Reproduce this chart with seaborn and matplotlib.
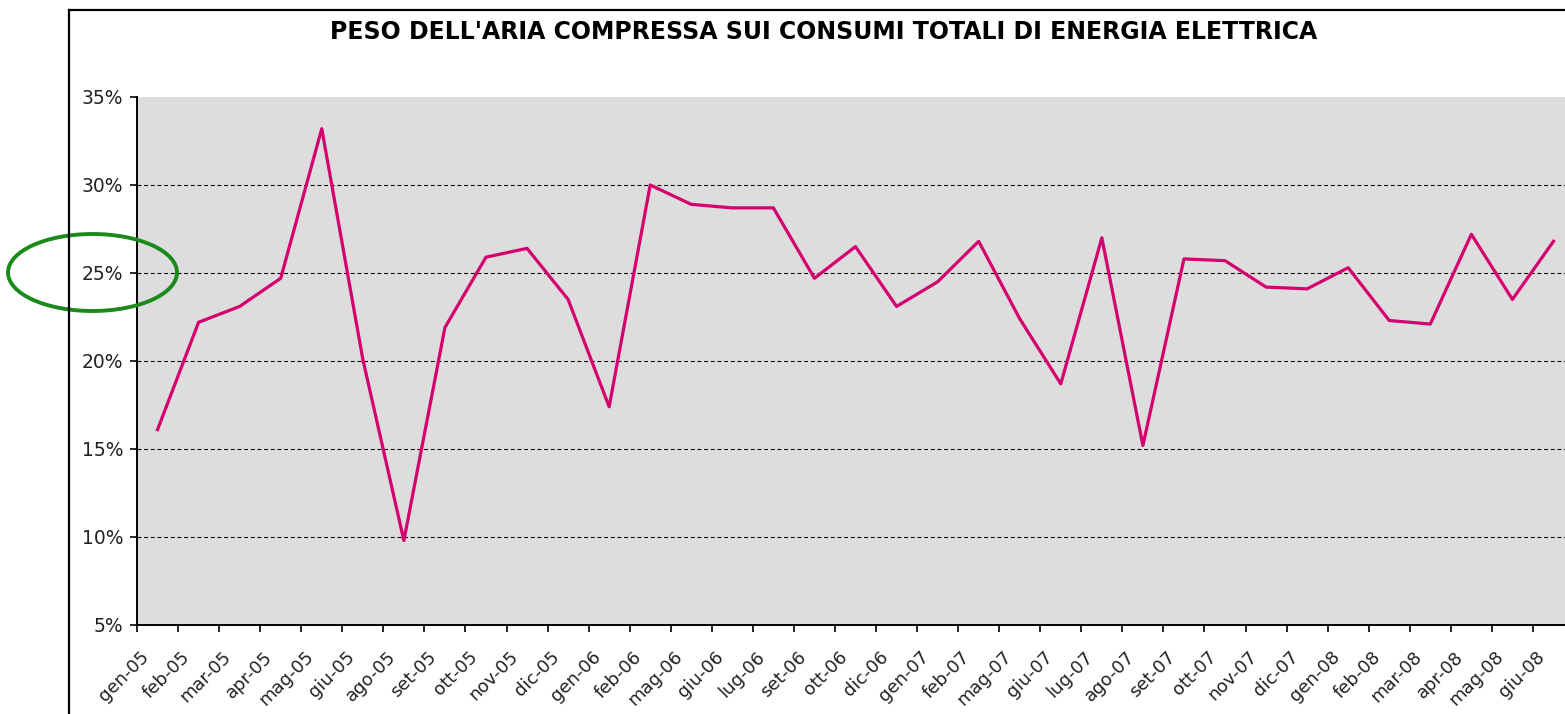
import numpy as np
import pandas as pd
import matplotlib
matplotlib.use("Agg")
import matplotlib.pyplot as plt
from matplotlib.patches import Ellipse
from matplotlib.lines import Line2D
from matplotlib.ticker import PercentFormatter, FixedLocator
import seaborn as sns

# ---- data ----
months = ["gen-05", "feb-05", "mar-05", "apr-05", "mag-05", "giu-05", "ago-05",
          "set-05", "ott-05", "nov-05", "dic-05", "gen-06", "feb-06", "mag-06",
          "giu-06", "lug-06", "set-06", "ott-06", "dic-06", "gen-07", "feb-07",
          "mag-07", "giu-07", "lug-07", "ago-07", "set-07", "ott-07", "nov-07",
          "dic-07", "gen-08", "feb-08", "mar-08", "apr-08", "mag-08", "giu-08"]
share_pct = [16.1, 22.2, 23.1, 24.7, 33.2, 20.1, 9.8,
             21.9, 25.9, 26.4, 23.5, 17.4, 30.0, 28.9,
             28.7, 28.7, 24.7, 26.5, 23.1, 24.5, 26.8,
             22.4, 18.7, 27.0, 15.2, 25.8, 25.7, 24.2,
             24.1, 25.3, 22.3, 22.1, 27.2, 23.5, 26.8]
y_ticks = [5, 10, 15, 20, 25, 30, 35]
grid_levels = [10, 15, 20, 25, 30]
title = "PESO DELL'ARIA COMPRESSA SUI CONSUMI TOTALI DI ENERGIA ELETTRICA"

df = pd.DataFrame({"mese": months, "quota": share_pct})

W, H = 1565, 714
fig = plt.figure(figsize=(W / 100, H / 100), dpi=100)
fig.patch.set_facecolor("white")

# axes: plot area from x=137 to 1574 px, y=97 to 625 px
ax = fig.add_axes([137 / W, (H - 625) / H, 1437 / W, 528 / H])
ax.set_facecolor("#DDDDDD")

for lv in grid_levels:
    ax.axhline(lv, color="black", lw=0.8, linestyle=(0, (3.5, 2.5)), zorder=1)

sns.lineplot(data=df, x="mese", y="quota", sort=False, ax=ax,
             color="#D4006E", linewidth=2.3, zorder=3)

n = len(months)
ax.set_xlim(-0.5, n - 0.5)
ax.set_ylim(5, 35)
ax.set_xlabel("")
ax.set_ylabel("")

# x ticks: marks at category boundaries, labels slightly left of centres
ax.xaxis.set_major_locator(FixedLocator(np.arange(-0.5, n, 1.0)))
ax.set_xticklabels([])
ax.set_xticks(np.arange(n) - 0.27, minor=True)
ax.set_xticklabels(months, minor=True, rotation=45, ha="right", va="center",
                   rotation_mode="anchor", fontsize=13, color="#222222")
ax.tick_params(axis="x", which="major", length=5, width=1.2, color="black",
               direction="out")
ax.tick_params(axis="x", which="minor", length=0, pad=21)

ax.set_yticks(y_ticks)
ax.yaxis.set_major_formatter(PercentFormatter(xmax=100, decimals=0))
ax.tick_params(axis="y", length=5, width=1.2, color="black", direction="out",
               pad=5, labelsize=13.5, labelcolor="#222222")

for s in ["top", "right"]:
    ax.spines[s].set_visible(False)
for s in ["left", "bottom"]:
    ax.spines[s].set_color("black")
    ax.spines[s].set_linewidth(1.4)

# title
fig.text(824 / W, 1 - 32 / H, title, ha="center", va="center",
         fontsize=17, fontweight="bold", color="black")

# outer chart border (partially visible)
fig.add_artist(Line2D([69 / W, 69 / W], [0, 1 - 10 / H], transform=fig.transFigure,
                      color="black", lw=1.6))
fig.add_artist(Line2D([69 / W, 1.0], [1 - 10 / H, 1 - 10 / H], transform=fig.transFigure,
                      color="black", lw=1.6))

# green ellipse highlighting 25%
ell = Ellipse((92.5 / W, 1 - 272.5 / H), 169 / W, 77 / H, transform=fig.transFigure,
              fill=False, edgecolor="#1A8A1A", lw=2.8)
fig.add_artist(ell)

fig.savefig("out.png", dpi=100)
